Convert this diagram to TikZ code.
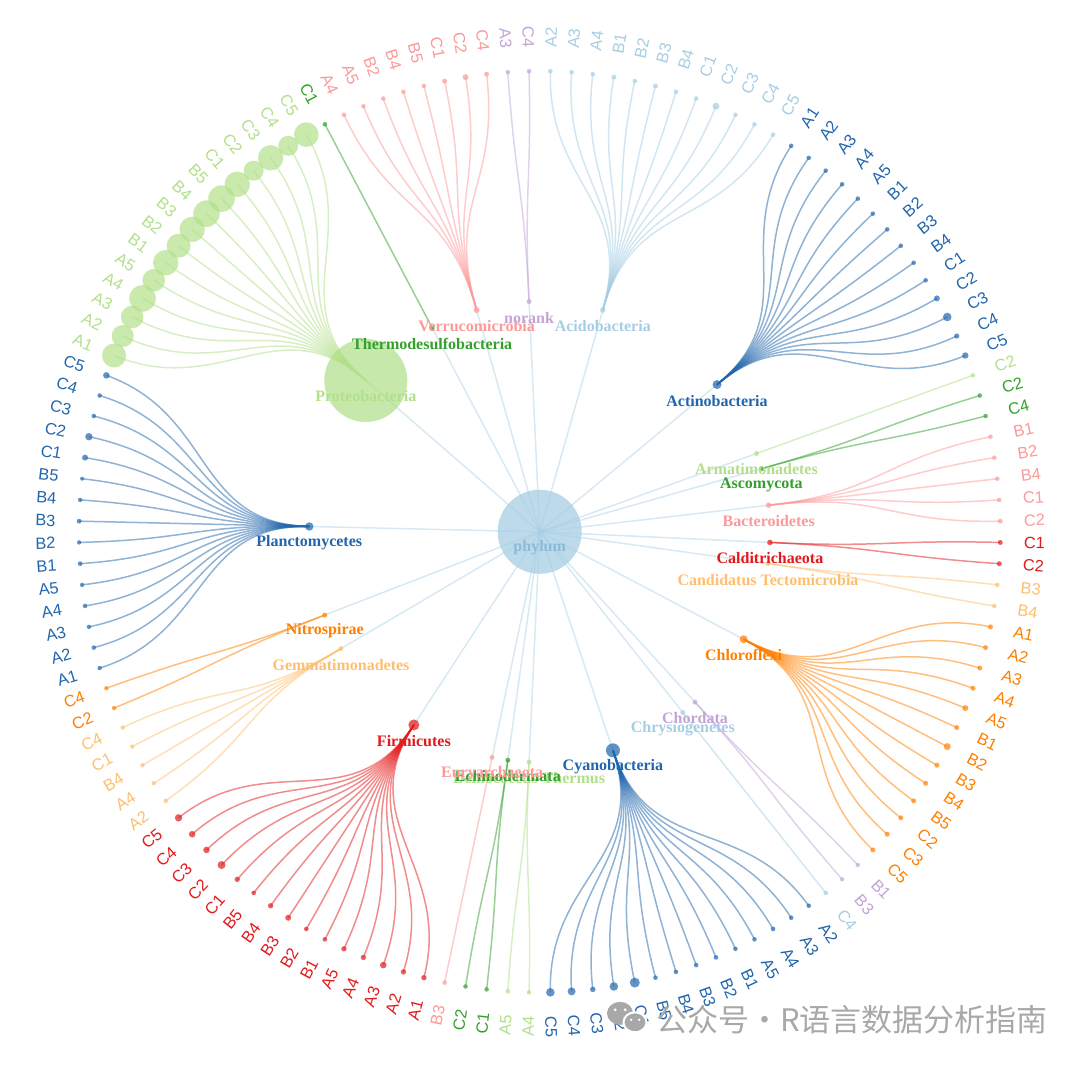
\documentclass[tikz,border=0pt]{standalone}
\usepackage{fontspec}
\setmainfont{Liberation Serif}
\setsansfont{Liberation Sans}
\newfontfamily\cjkfont{Noto Sans CJK SC}
\usetikzlibrary{calc}

\definecolor{LBlue}{HTML}{A6CEE3}
\definecolor{DBlue}{HTML}{2166AC}
\definecolor{LGreen}{HTML}{B2DF8A}
\definecolor{DGreen}{HTML}{33A02C}
\definecolor{Pink}{HTML}{FB9A99}
\definecolor{Red}{HTML}{E31A1C}
\definecolor{LOrange}{HTML}{FDBF6F}
\definecolor{Orange}{HTML}{FF7F00}
\definecolor{Lilac}{HTML}{C2A5D6}
\definecolor{Mark}{HTML}{A8A8A8}

\pgfdeclarelayer{edges}
\pgfdeclarelayer{labels}
\pgfsetlayers{edges,main,labels}

\newcommand{\angstep}{2.6470588}

% #1 name, #2 colour, #3 first leaf, #4 leaves, #5 dot radius, #6 label, #7 leaf/size list
\newcommand{\drawphylum}[7]{%
  \pgfmathsetmacro{\pang}{90-(#3+(#4-1)/2+0.5)*\angstep}
  \node[phydot, fill=#2, minimum size=#5pt] (#1) at (\pang:230.5) {};
  \begin{pgfonlayer}{labels}
    \node[phylab, text=#2] (#1-lab) at ([yshift=-8pt]#1.center) {#6};
  \end{pgfonlayer}
  \begin{pgfonlayer}{edges}
    \draw[rootedge] (root.center) -- (#1.center);
  \end{pgfonlayer}
  \foreach \lab/\sz [count=\k from #3] in {#7} {
    \pgfmathsetmacro{\lang}{90-(\k+0.5)*\angstep}
    \pgfmathtruncatemacro{\isright}{cos(\lang)>0 ? 1 : 0}
    \node[leafdot, fill=#2, minimum size=\sz pt] (#1-\k) at (\lang:460.7) {};
    \ifnum\isright=1
      \node[leaflab, text=#2, rotate=\lang, anchor=west] (#1-\k-t) at (\lang:484) {\lab};
    \else
      \node[leaflab, text=#2, rotate=\lang+180, anchor=east] (#1-\k-t) at (\lang:484) {\lab};
    \fi
    \begin{pgfonlayer}{edges}
      \draw[leafedge, draw=#2] (#1.center) .. controls (\pang:345.6) and (\lang:345.6) .. (#1-\k.center);
    \end{pgfonlayer}
  }
}

\begin{document}
\begin{tikzpicture}[x=0.5pt, y=0.5pt,
    phydot/.style={circle, inner sep=0pt, fill opacity=0.72},
    leafdot/.style={circle, inner sep=0pt, fill opacity=0.7},
    phylab/.style={inner sep=0pt, font=\bfseries\fontsize{8}{9}\selectfont},
    leaflab/.style={inner sep=0pt, font=\sffamily\fontsize{8.2}{9}\selectfont},
    leafedge/.style={line width=0.75pt, draw opacity=0.5},
    rootedge/.style={draw=LBlue, line width=0.75pt, draw opacity=0.45}]
    \useasboundingbox (-539.7,-532.2) rectangle (540.3,531.8);

    % Root
    \node[circle, inner sep=0pt, fill=LBlue, fill opacity=0.75, minimum size=42pt] (root) at (0,0) {};
    \begin{pgfonlayer}{labels}
      \node[phylab, text=LBlue!80!DBlue] (root-lab) at ([yshift=-8pt]root.center) {phylum};
    \end{pgfonlayer}

    % Phyla and samples
    \drawphylum{acido}{LBlue}{0}{12}{2.8}{Acidobacteria}{A2/2.3,A3/2.3,A4/2.3,B1/2.5,B2/2.3,B3/2.5,B4/2.3,C1/2.3,C2/3.5,C3/2.3,C4/2.3,C5/2.3}
    \drawphylum{actino}{DBlue}{12}{14}{4.5}{Actinobacteria}{A1/2.3,A2/2.3,A3/2.3,A4/2.3,A5/2.3,B1/2.3,B2/2.3,B3/2.3,B4/2.3,C1/2.3,C2/3,C3/4.3,C4/2.6,C5/3.2}
    \drawphylum{armat}{LGreen}{26}{1}{2.5}{Armatimonadetes}{C2/2.3}
    \drawphylum{asco}{DGreen}{27}{2}{2.5}{Ascomycota}{C2/2.3,C4/2.3}
    \drawphylum{bacte}{Pink}{29}{5}{2.8}{Bacteroidetes}{B1/2.3,B2/2.3,B4/2.3,C1/2.3,C2/2.5}
    \drawphylum{caldi}{Red}{34}{2}{2.8}{Calditrichaeota}{C1/2.5,C2/2.5}
    \drawphylum{candi}{LOrange}{36}{2}{2.5}{Candidatus Tectomicrobia}{B3/2.3,B4/2.3}
    \drawphylum{chloro}{Orange}{38}{13}{4}{Chloroflexi}{A1/2.5,A2/2.5,A3/2.5,A4/2.5,A5/3,B1/2.5,B2/3.5,B3/2.5,B4/2.5,B5/2.5,C2/2.5,C3/2.5,C5/2.5}
    \drawphylum{chorda}{Lilac}{51}{2}{2.5}{Chordata}{B1/2.2,B3/2.2}
    \drawphylum{chrys}{LBlue}{53}{1}{2.5}{Chrysiogenetes}{C4/2.3}
    \drawphylum{cyano}{DBlue}{54}{14}{7}{Cyanobacteria}{A2/2.3,A3/2.3,A4/2.3,A5/2.3,B1/2.3,B2/2.3,B3/2.3,B4/2.3,B5/2.3,C1/5,C2/4.3,C3/2.8,C4/4,C5/4.3}
    \drawphylum{deino}{LGreen}{68}{2}{2.5}{Deinococcus-Thermus}{A4/2.3,A5/2.3}
    \drawphylum{echino}{DGreen}{70}{2}{2.5}{Echinodermata}{C1/2.3,C2/2.3}
    \drawphylum{eury}{Pink}{72}{1}{2.5}{Euryarchaeota}{B3/2.3}
    \drawphylum{firmi}{Red}{73}{15}{5.5}{Firmicutes}{A1/2.7,A2/2.7,A3/3.3,A4/2.7,A5/2.7,B1/2.3,B2/2.3,B3/3,B4/2.7,B5/2.3,C1/2.7,C2/4,C3/3.3,C4/3.3,C5/3.7}
    \drawphylum{gemma}{LOrange}{88}{5}{2.5}{Gemmatimonadetes}{A2/2.2,A4/2.2,B4/2.2,C1/2.2,C4/2.2}
    \drawphylum{nitro}{Orange}{93}{2}{2.5}{Nitrospirae}{C2/2.2,C4/2.2}
    \drawphylum{plancto}{DBlue}{95}{15}{4.2}{Planctomycetes}{A1/2.2,A2/2.3,A3/2.2,A4/2.3,A5/2.2,B1/2.4,B2/2.2,B3/2.4,B4/2.2,B5/2,C1/3,C2/3.7,C3/2.3,C4/2.3,C5/3.3}
    \drawphylum{proteo}{LGreen}{110}{15}{41.5}{Proteobacteria}{A1/12,A2/11,A3/11.3,A4/13.3,A5/11.3,B1/12.7,B2/12,B3/12.7,B4/13.3,B5/13.3,C1/12.7,C2/10,C3/12.7,C4/10,C5/12.3}
    \drawphylum{thermo}{DGreen}{125}{1}{2.5}{Thermodesulfobacteria}{C1/2.3}
    \drawphylum{verru}{Pink}{126}{8}{3}{Verrucomicrobia}{A4/2.3,A5/2.3,B2/2.3,B4/2.3,B5/2.3,C1/2.5,C2/3,C4/2.5}
    \drawphylum{norank}{Lilac}{134}{2}{2.5}{norank}{A3/2.3,C4/2.3}

    % Watermark
    \fill[Mark] (80.3,-481.5) ellipse (13 and 11.5);
    \fill[Mark, draw=white, line width=1pt] (95.3,-490.5) ellipse (11.5 and 10);
    \fill[white] (75.5,-478) circle (1.6) (85.5,-478) circle (1.6) (91.5,-488) circle (1.3) (99.5,-488) circle (1.3);
    \node[anchor=west, inner sep=0pt, text=Mark, font=\cjkfont\fontsize{15.5}{16}\selectfont] (mark) at (116,-488.2) {公众号·R语言数据分析指南};
\end{tikzpicture}
\end{document}
